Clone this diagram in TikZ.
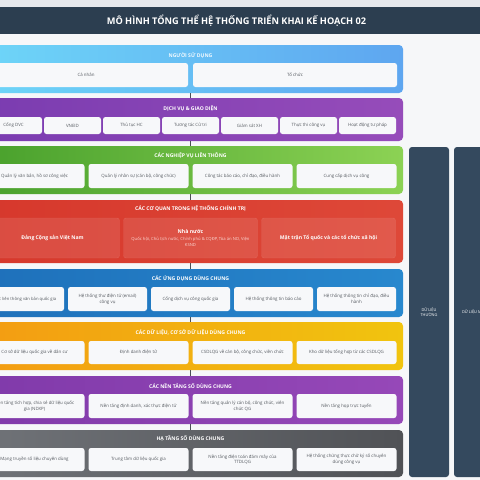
\documentclass[tikz,border=0pt]{standalone}
\usepackage{fontspec}
\setmainfont{Open Sans}
\definecolor{pagebg}{HTML}{F6F7F9}
\definecolor{topstrip}{HTML}{E6E8EC}
\definecolor{titlebar}{HTML}{2C3E50}
\definecolor{boxfill}{HTML}{F7F8FA}
\definecolor{boxtext}{HTML}{555A60}
\definecolor{darkcol}{HTML}{34495E}
\definecolor{connc}{HTML}{4A4F55}
\definecolor{userL}{RGB}{110,214,248}
\definecolor{userR}{RGB}{94,166,240}
\definecolor{dvL}{RGB}{122,60,176}
\definecolor{dvR}{RGB}{150,76,186}
\definecolor{nvL}{RGB}{72,160,44}
\definecolor{nvR}{RGB}{140,210,84}
\definecolor{cqL}{RGB}{214,56,44}
\definecolor{cqR}{RGB}{222,72,56}
\definecolor{udL}{RGB}{30,112,186}
\definecolor{udR}{RGB}{40,136,206}
\definecolor{dlL}{RGB}{243,156,18}
\definecolor{dlR}{RGB}{241,196,15}
\definecolor{ntL}{RGB}{128,58,170}
\definecolor{ntR}{RGB}{150,72,184}
\definecolor{htL}{RGB}{112,115,120}
\definecolor{htR}{RGB}{80,82,86}
\definecolor{smallred}{RGB}{250,215,210}
\begin{document}
\begin{tikzpicture}[x=1pt,y=-1pt,
  panel/.style={rounded corners=4pt, inner sep=0pt, minimum width=425pt},
  ptitle/.style={text=white, font=\fontsize{5.1}{6}\selectfont\bfseries, inner sep=0pt},
  box/.style={fill=boxfill, rounded corners=2.5pt, inner sep=0.5pt, align=flush center, text=boxtext, font=\fontsize{4.4}{5.8}\selectfont},
  b57/.style={box, minimum width=57pt, text width=55pt, minimum height=17pt},
  b100/.style={box, minimum width=100pt, text width=98pt},
  b79/.style={box, minimum width=79pt, text width=77pt, minimum height=24pt},
  b204/.style={box, minimum width=204pt, text width=200pt, minimum height=24pt},
  rbox/.style={fill=white, fill opacity=0.1, text opacity=1, draw=white, draw opacity=0.12, rounded corners=2.5pt, minimum width=134pt, minimum height=40pt, inner sep=0.5pt, text width=132pt, align=flush center, text=white},
  rbig/.style={rbox, font=\fontsize{5.1}{6}\selectfont\bfseries},
  dcol/.style={fill=darkcol, rounded corners=3pt, minimum width=40pt, minimum height=330pt, inner sep=1pt, text=white, align=flush center, font=\fontsize{3.9}{5}\selectfont},
  conn/.style={draw=connc, line width=0.6pt}
]
\useasboundingbox (0,0) rectangle (480,480);
\clip (0,0) rectangle (480,480);
\fill[pagebg] (0,0) rectangle (480,480);
\fill[topstrip] (0,0) rectangle (480,7);
\node[fill=titlebar, minimum width=500pt, minimum height=27pt, inner sep=0pt, text=white, font=\fontsize{9.2}{11}\selectfont\bfseries] (hdr) at (236.5,20.5) {MÔ HÌNH TỔNG THỂ HỆ THỐNG TRIỂN KHAI KẾ HOẠCH 02};

% panels
\node[panel, minimum height=48pt, left color=userL, right color=userR] (user) at (190.5,69) {};
\node[panel, minimum height=43pt, left color=dvL, right color=dvR] (dv) at (190.5,119.5) {};
\node[panel, minimum height=48pt, left color=nvL, right color=nvR] (nv) at (190.5,170) {};
\node[panel, minimum height=63pt, left color=cqL, right color=cqR] (cq) at (190.5,231.5) {};
\node[panel, minimum height=48pt, left color=udL, right color=udR] (ud) at (190.5,293) {};
\node[panel, minimum height=48pt, left color=dlL, right color=dlR] (dl) at (190.5,346) {};
\node[panel, minimum height=48pt, left color=ntL, right color=ntR] (nt) at (190.5,400) {};
\node[panel, minimum height=47pt, left color=htL, right color=htR] (ht) at (190.5,453.5) {};

% connectors
\draw[conn] (user.south) -- (dv.north);
\draw[conn] (dv.south) -- (nv.north);
\draw[conn] (nv.south) -- (cq.north);
\draw[conn] (cq.south) -- (ud.north);
\draw[conn] (ud.south) -- (dl.north);
\draw[conn] (dl.south) -- (nt.north);
\draw[conn] (nt.south) -- (ht.north);

% user
\node[ptitle, text opacity=0.9] (tuser) at (190.5,55) {NGƯỜI SỬ DỤNG};
\node[b204] (canhan) at (86,75) {Cá nhân};
\node[b204] (tochuc) at (295,75) {Tổ chức};

% dich vu
\node[ptitle] (tdv) at (190.5,109) {DỊCH VỤ \& GIAO DIỆN};
\node[b57] (d1) at (13.5,125.5) {Cổng DVC};
\node[b57] (d2) at (72.5,125.5) {VNEID};
\node[b57] (d3) at (131.5,125.5) {Thủ tục HC};
\node[b57] (d4) at (190.5,125.5) {Tương tác Cử tri};
\node[b57] (d5) at (249.5,125.5) {Giám sát XH};
\node[b57] (d6) at (308.5,125.5) {Thực thi công vụ};
\node[b57] (d7) at (367.5,125.5) {Hoạt động tư pháp};

% nghiep vu
\node[ptitle] (tnv) at (190.5,156) {CÁC NGHIỆP VỤ LIÊN THÔNG};
\node[b100, minimum height=24pt] (n1) at (34.5,176) {Quản lý văn bản, hồ sơ công việc};
\node[b100, minimum height=24pt] (n2) at (138.5,176) {Quản lý nhân sự (cán bộ, công chức)};
\node[b100, minimum height=24pt] (n3) at (242.5,176) {Công tác báo cáo, chỉ đạo, điều hành};
\node[b100, minimum height=24pt] (n4) at (346.5,176) {Cung cấp dịch vụ công};

% co quan
\node[ptitle] (tcq) at (190.5,209) {CÁC CƠ QUAN TRONG HỆ THỐNG CHÍNH TRỊ};
\node[rbig] (c1) at (52.5,238) {Đảng Cộng sản Việt Nam};
\node[rbox, font=\fontsize{4.2}{6.2}\selectfont] (c2) at (190.5,238) {{\fontsize{5.2}{6}\selectfont\bfseries Nhà nước}\\[0.6pt]{\color{smallred}Quốc hội, Chủ tịch nước, Chính phủ \& CQĐP, Tòa án ND, Viện\\KSND}};
\node[rbig] (c3) at (328.5,238) {Mặt trận Tổ quốc và các tổ chức xã hội};

% ung dung
\node[ptitle] (tud) at (190.5,279) {CÁC ỨNG DỤNG DÙNG CHUNG};
\node[b79, font=\fontsize{4.2}{5.8}\selectfont] (u1) at (24.5,299) {Trục liên thông văn bản quốc gia};
\node[b79] (u2) at (107.5,299) {Hệ thống thư điện tử (email)\\công vụ};
\node[b79] (u3) at (190.5,299) {Cổng dịch vụ công quốc gia};
\node[b79] (u4) at (273.5,299) {Hệ thống thông tin báo cáo};
\node[b79] (u5) at (356.5,299) {Hệ thống thông tin chỉ đạo, điều\\hành};

% du lieu
\node[ptitle] (tdl) at (190.5,332) {CÁC DỮ LIỆU, CƠ SỞ DỮ LIỆU DÙNG CHUNG};
\node[b100, minimum height=23pt] (l1) at (34.5,352.5) {Cơ sở dữ liệu quốc gia về dân cư};
\node[b100, minimum height=23pt] (l2) at (138.5,352.5) {Định danh điện tử};
\node[b100, minimum height=23pt] (l3) at (242.5,352.5) {CSDLQG về cán bộ, công chức, viên chức};
\node[b100, minimum height=23pt] (l4) at (346.5,352.5) {Kho dữ liệu tổng hợp từ các CSDLQG};

% nen tang
\node[ptitle] (tnt) at (190.5,386) {CÁC NỀN TẢNG SỐ DÙNG CHUNG};
\node[b100, minimum height=24pt] (t1) at (34.5,406) {Nền tảng tích hợp, chia sẻ dữ liệu quốc\\gia (NDXP)};
\node[b100, minimum height=24pt] (t2) at (138.5,406) {Nền tảng định danh, xác thực điện tử};
\node[b100, minimum height=24pt] (t3) at (242.5,406) {Nền tảng quản lý cán bộ, công chức, viên\\chức QG};
\node[b100, minimum height=24pt] (t4) at (346.5,406) {Nền tảng họp trực tuyến};

% ha tang
\node[ptitle] (tht) at (190.5,439) {HẠ TẦNG SỐ DÙNG CHUNG};
\node[b100, minimum height=23pt] (h1) at (34.5,459.5) {Mạng truyền số liệu chuyên dùng};
\node[b100, minimum height=23pt] (h2) at (138.5,459.5) {Trung tâm dữ liệu quốc gia};
\node[b100, minimum height=23pt] (h3) at (242.5,459.5) {Nền tảng điện toán đám mây của\\TTDLQG};
\node[b100, minimum height=23pt] (h4) at (346.5,459.5) {Hệ thống chứng thực chữ ký số chuyên\\dùng công vụ};

% side columns
\node[dcol, text width=36pt] (col1) at (429,312) {DỮ LIỆU\\THƯỜNG};
\node[dcol, text width=36pt] (col2) at (474,312) {DỮ LIỆU MẬT};
\end{tikzpicture}
\end{document}
